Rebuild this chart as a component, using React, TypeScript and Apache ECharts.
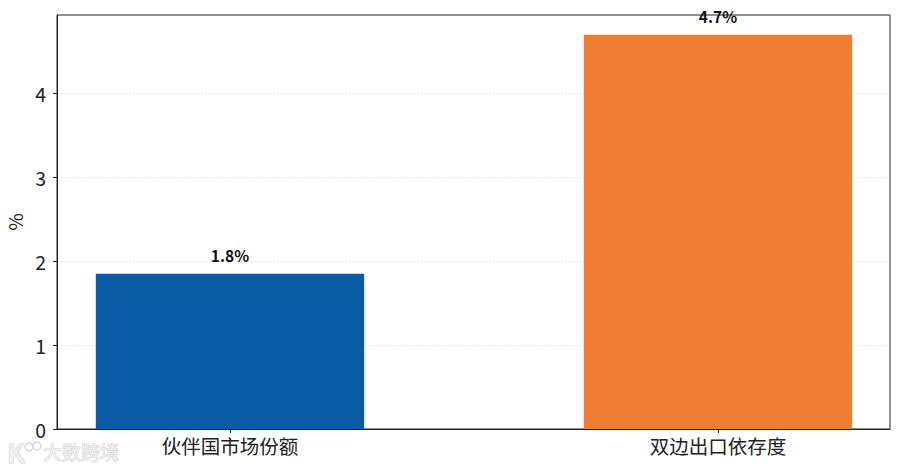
import React, { useEffect, useRef } from "react";
import * as echarts from "echarts";

const categories = ["伙伴国市场份额", "双边出口依存度"];
const positions = [0, 1];
const values = [1.85, 4.7];
const valueLabels = ["1.8%", "4.7%"];
const barColors = ["#0b5aa6", "#ee7d31"];
const font = '"Noto Sans CJK SC", "Noto Sans", sans-serif';
const ink = "#222";
const mark = "#d6d6d6";

export default function App() {
  const ref = useRef<HTMLDivElement>(null);
  useEffect(() => {
    const chart = echarts.init(ref.current!, undefined, { renderer: "svg" });
    chart.setOption({
      animation: false,
      backgroundColor: "#fff",
      grid: {
        left: 57,
        right: 10,
        top: 15,
        bottom: 41,
        show: true,
        borderColor: ink,
        borderWidth: 1,
        outerBoundsMode: "none",
      },
      xAxis: {
        type: "value",
        min: -0.3545,
        max: 1.3525,
        axisLine: { lineStyle: { color: ink } },
        splitLine: { show: false },
        axisTick: { show: true, length: 4, lineStyle: { color: ink }, customValues: positions },
        axisLabel: {
          fontSize: 19.5,
          color: ink,
          fontFamily: font,
          margin: 7,
          customValues: positions,
          formatter: (v: number) => categories[Math.round(v)] ?? "",
        },
      },
      yAxis: {
        type: "value",
        min: 0,
        max: 4.935,
        interval: 1,
        name: "%",
        nameLocation: "middle",
        nameGap: 29,
        nameTextStyle: { fontSize: 19, color: ink, fontFamily: font },
        axisLine: { show: true, onZero: false, lineStyle: { color: ink } },
        axisTick: { show: true, length: 4, lineStyle: { color: ink } },
        axisLabel: { fontSize: 19.5, color: ink, fontFamily: font, margin: 11, showMaxLabel: false },
        splitLine: {
          show: true,
          showMinLine: false,
          showMaxLine: false,
          lineStyle: { color: "#ddd", type: "dashed", width: 0.6 },
        },
      },
      series: [
        {
          type: "bar",
          barWidth: "55%",
          z: 3,
          data: values.map((v, i) => ({
            value: [positions[i], v],
            itemStyle: { color: barColors[i] },
            label: {
              show: true,
              position: "top",
              distance: 11,
              formatter: valueLabels[i],
              fontSize: 15.5,
              fontWeight: "bold",
              color: "#111",
              fontFamily: font,
            },
          })),
        },
      ],
      graphic: [
        {
          type: "text",
          x: 43,
          y: 442,
          style: { text: "大数跨境", fontSize: 19, fill: "#eeeeee", stroke: mark, lineWidth: 1, fontFamily: font },
        },
        {
          type: "text",
          x: 7,
          y: 438,
          style: { text: "K", fontSize: 26, fontWeight: "bold", fill: "#eeeeee", stroke: mark, lineWidth: 1, fontFamily: font },
        },
        { type: "circle", shape: { cx: 29, cy: 447, r: 4 }, style: { fill: "#fff", stroke: mark, lineWidth: 1.5 } },
        { type: "circle", shape: { cx: 37, cy: 446, r: 4 }, style: { fill: "#fff", stroke: mark, lineWidth: 1.5 } },
      ],
    });
    return () => chart.dispose();
  }, []);
  return <div ref={ref} style={{ width: 900, height: 470, position: "absolute", left: 0, top: 0 }} />;
}
